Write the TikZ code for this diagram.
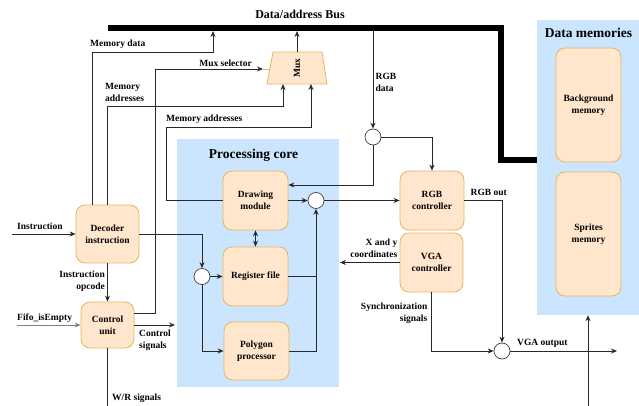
\documentclass[tikz,border=0pt]{standalone}
\usepackage{fontspec}
\setmainfont{Liberation Serif}
\usetikzlibrary{arrows.meta,calc}
\definecolor{boxfill}{HTML}{FFE6CC}
\definecolor{boxline}{RGB}{228,182,98}
\definecolor{panelfill}{HTML}{CCE5FF}
\definecolor{wirecol}{RGB}{40,40,40}
\begin{document}
\begin{tikzpicture}[x=1pt,y=-1pt,
  lblfont/.style={font=\fontsize{9.5}{12}\selectfont\bfseries},
  box/.style={draw=boxline, fill=boxfill, rounded corners=9pt, line width=0.8pt,
    align=center, inner sep=0pt, lblfont},
  panel/.style={fill=panelfill, draw=none, inner sep=0pt},
  wire/.style={draw=wirecol, line width=0.8pt},
  conn/.style={wire, -{Stealth[length=6pt,width=5pt]}},
  biconn/.style={wire, {Stealth[length=6pt,width=5pt]}-{Stealth[length=6pt,width=5pt]}},
  junc/.style={circle, draw=black!75, fill=white, minimum size=16pt, inner sep=0pt, line width=0.7pt},
  lab/.style={lblfont, inner sep=0pt},
  title/.style={font=\fontsize{13.5}{16}\selectfont\bfseries, inner sep=0pt},
]
\useasboundingbox (0,0) rectangle (639,406);

% panels
\node[panel, minimum width=162pt, minimum height=248pt] (pc) at (258,263) {};
\node[panel, minimum width=102pt, minimum height=295pt] (dm) at (588,167.5) {};
\node[title] (pctitle) at (253.5,155) {Processing core};
\node[title] (dmtitle) at (588.5,33) {Data memories};

% bus
\draw[line width=6pt, miter limit=10] (108,28) -- (500.5,28) -- (500.5,160) -- (537,160);
\node[font=\fontsize{12}{14}\selectfont\bfseries, inner sep=0pt] (buslabel) at (300,14) {Data/address Bus};
\coordinate (busA) at (213,31);
\coordinate (busB) at (297,31);
\coordinate (busC) at (373,31);

% boxes
\node[box, minimum width=63pt, minimum height=58pt] (dec) at (107.5,234) {Decoder\\instruction};
\node[box, minimum width=53pt, minimum height=46pt] (ctl) at (107.5,325) {Control\\unit};
\node[box, minimum width=65pt, minimum height=59pt] (drw) at (255.5,200.5) {Drawing\\module};
\node[box, minimum width=65pt, minimum height=59pt] (reg) at (255.5,276.5) {Register file};
\node[box, minimum width=65pt, minimum height=58pt] (poly) at (256.5,351) {Polygon\\processor};
\node[box, minimum width=64pt, minimum height=59pt] (rgb) at (432,200.5) {RGB\\controller};
\node[box, minimum width=63pt, minimum height=59pt] (vga) at (431.5,262.5) {VGA\\controller};
\node[box, minimum width=65pt, minimum height=114pt] (bg) at (588.5,105) {Background\\memory};
\node[box, minimum width=65pt, minimum height=124pt] (spr) at (588.5,234) {Sprites\\memory};

% mux
\draw[draw=boxline, fill=boxfill, line width=0.8pt] (273,52) -- (322,52) -- (327,84) -- (267,84) -- cycle;
\node[lblfont, rotate=90, inner sep=0pt] (mux) at (297,68) {Mux};
\coordinate (muxtop) at (297,52);
\coordinate (muxin1) at (283,84);
\coordinate (muxin2) at (311,84);
\coordinate (muxsel) at (263,69);
\draw[draw=boxline, line width=0.8pt] (muxsel) -- (270,69);

% junctions
\node[junc] (c1) at (373,137) {};
\node[junc] (c2) at (316,200.5) {};
\node[junc] (c3) at (202,276.5) {};
\node[junc] (c4) at (502,351) {};

% free ends
\coordinate (instr) at (12,234);
\coordinate (fifo) at (17,325);
\coordinate (csig) at (175,325);
\coordinate (wr) at (107.5,406);
\coordinate (xyend) at (340,262.5);
\coordinate (vgaout) at (617,351);
\coordinate (bottomin) at (588,406);

% connectors
\draw[conn] ([xshift=-15.5pt]dec.north) |- (213,52) -- (busA);
\draw[conn] (dec.north) |- (283,106) -- (muxin1);
\draw[conn] ([yshift=12pt]ctl.east) -| (155,69) -- (muxsel);
\draw[conn] (drw.west) -| (166,127) -| (muxin2);
\draw[conn] (muxtop) -- (busB);
\draw[conn] (busC) -- (c1.north);
\draw[conn] (c1.east) -| (rgb.north);
\draw[conn] (c1.south) |- ([yshift=15.5pt]drw.east);
\draw[conn] (drw.east) -- (c2.west);
\draw[conn] (c2.east) -- (rgb.west);
\draw[biconn] (drw.south) -- (reg.north);
\draw[conn] (dec.east) -| (c3.north);
\draw[conn] (c3.east) -- (reg.west);
\draw[conn] (c3.south) |- (poly.west);
\draw[wire] (reg.east) -- (reg.east -| c2);
\draw[conn] (poly.east) -| (c2.south);
\draw[conn] (rgb.east) -| (c4.north);
\draw[conn] (vga.west) -- (xyend);
\draw[conn] (vga.south) |- (c4.west);
\draw[conn] (c4.east) -- (vgaout);
\draw[conn] (bottomin) -- (dm.south);
\draw[conn] (instr) -- (dec.west);
\draw[conn] (dec.south) -- (ctl.north);
\draw[conn, draw=gray] (fifo) -- (ctl.west);
\draw[conn] (ctl.east) -- (csig);
\draw[wire] (ctl.south) -- (wr);

% labels
\node[lab, anchor=west] (lmd) at (90,44) {Memory data};
\node[lab, anchor=east] (lms) at (252,63) {Mux selector};
\node[lab, anchor=west, align=left] (lma1) at (105,92) {Memory\\addresses};
\node[lab, anchor=west] (lma2) at (166,119) {Memory addresses};
\node[lab, anchor=west, align=left] (lrgbd) at (375.5,82) {RGB\\data};
\node[lab, anchor=west] (lrgbo) at (470.5,192) {RGB out};
\node[lab, anchor=east, align=right] (lxy) at (397.5,248) {X and y\\coordinates};
\node[lab, anchor=east, align=right] (lsync) at (427.5,313) {Synchronization\\signals};
\node[lab, anchor=west] (lvgao) at (517,343) {VGA output};
\node[lab, anchor=west] (linstr) at (17,226) {Instruction};
\node[lab, anchor=east, align=right] (lop) at (105,281) {Instruction\\opcode};
\node[lab, anchor=west] (lfifo) at (17,318) {Fifo\_isEmpty};
\node[lab, anchor=west, align=left] (lcs) at (139,340) {Control\\signals};
\node[lab, anchor=west] (lwr) at (112,398) {W/R signals};
\end{tikzpicture}
\end{document}
